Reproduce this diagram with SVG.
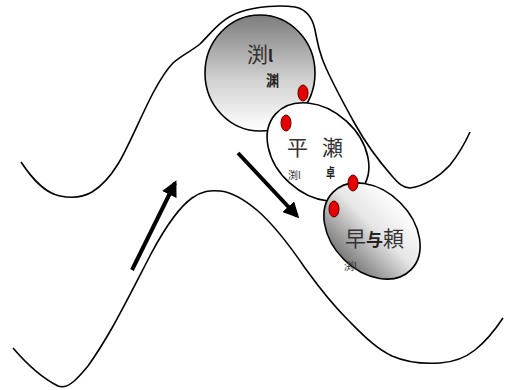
<svg xmlns="http://www.w3.org/2000/svg" width="510" height="390" viewBox="0 0 510 390">
  <defs>
    <linearGradient id="gradPool" x1="0" y1="0" x2="0" y2="1">
      <stop offset="0" stop-color="#7c7c7c"/>
      <stop offset="0.55" stop-color="#d0d0d0"/>
      <stop offset="1" stop-color="#ffffff"/>
    </linearGradient>
    <linearGradient id="gradRiffle" x1="0" y1="0" x2="0" y2="1">
      <stop offset="0" stop-color="#ffffff"/>
      <stop offset="0.45" stop-color="#e6e6e6"/>
      <stop offset="1" stop-color="#7a7a7a"/>
    </linearGradient>
    <marker id="head" viewBox="0 0 10 10" refX="8" refY="5" markerWidth="4" markerHeight="4" orient="auto" markerUnits="strokeWidth">
      <path d="M0,0 L10,5 L0,10 Z" fill="#000"/>
    </marker>
  </defs>
  <style>
    .bank { fill: none; stroke: #000; stroke-width: 1.6; stroke-linejoin: round; }
    .unit { stroke: #000; stroke-width: 1.6; }
    .dot { fill: #e60000; stroke: #5a0000; stroke-width: 1; }
    .flow { stroke: #000; stroke-width: 4; fill: none; marker-end: url(#head); }
    .lbl { font-family: "Noto Sans CJK JP", "Noto Sans CJK SC", sans-serif; fill: #333; }
    .big { font-size: 21px; }
    .bold { font-weight: bold; fill: #222; }
    .small { font-size: 10px; }
  </style>
  <rect width="510" height="390" fill="#fff"/>

  <!-- stream banks -->
  <g id="banks">
    <path class="bank" d="M21,162 C33,180 45,193 60,196 C70,198 82,198 92,192 C102,186 110,177 118,164 C128,148 140,118 153,93 C160,80 166,70 173,63 C182,55 190,52 200,44 C212,32 222,18 240,12 C258,6 280,5 295,7 C305,9 312,15 315,30 C318,45 320,55 326,68 C335,88 345,106 355,124 C365,142 378,160 392,176 C398,183 403,188 410,188 C425,186 440,176 450,165 C458,155 465,143 470,132"/>
    <path class="bank" d="M13,348 C25,362 42,378 58,386 C68,390 78,378 88,366 C98,352 104,342 112,328 C125,305 140,275 152,252 C165,228 178,208 192,198 C202,191 210,190 220,191 C232,192 245,200 258,211 C275,226 290,246 305,268 C318,286 332,304 348,320 C362,334 375,348 392,356 C408,363 425,364 440,363 C455,362 465,358 475,350 C485,342 495,330 503,318"/>
  </g>

  <!-- pool -->
  <g id="pool">
    <ellipse class="unit" cx="260" cy="73" rx="55" ry="58" fill="url(#gradPool)"/>
    <text class="lbl big" x="247" y="62">渕<tspan class="bold" font-size="16">l</tspan></text>
    <text class="lbl bold" x="266" y="86" font-size="15" textLength="13" lengthAdjust="spacingAndGlyphs">渊</text>
  </g>

  <!-- flat run -->
  <g id="run">
    <ellipse class="unit" cx="318" cy="152" rx="57" ry="42" transform="rotate(42 318 152)" fill="#fff"/>
    <text class="lbl big" x="287" y="155">平</text>
    <text class="lbl big" x="322" y="155">瀬</text>
    <text class="lbl bold" x="326" y="177" font-size="13" textLength="9" lengthAdjust="spacingAndGlyphs">卓</text>
    <text class="lbl small" x="288" y="179">渕l</text>
  </g>

  <!-- riffle -->
  <g id="riffle">
    <ellipse class="unit" cx="372" cy="231" rx="55" ry="40" transform="rotate(45 372 231)" fill="url(#gradRiffle)"/>
    <text class="lbl big" x="345" y="246">早<tspan class="bold" font-size="17">与</tspan>頼</text>
    <text class="lbl small" x="344" y="270" fill="#555">渕l</text>
  </g>

  <!-- contact points -->
  <g id="points">
    <ellipse class="dot" cx="303" cy="93" rx="5" ry="8"/>
    <ellipse class="dot" cx="286" cy="123" rx="5" ry="8"/>
    <ellipse class="dot" cx="353" cy="183" rx="5" ry="8"/>
    <ellipse class="dot" cx="334" cy="209" rx="5" ry="8"/>
  </g>

  <!-- flow direction -->
  <g id="connectors">
    <line class="flow" x1="132" y1="270" x2="175" y2="183"/>
    <line class="flow" x1="238" y1="153" x2="297" y2="216"/>
  </g>
</svg>
